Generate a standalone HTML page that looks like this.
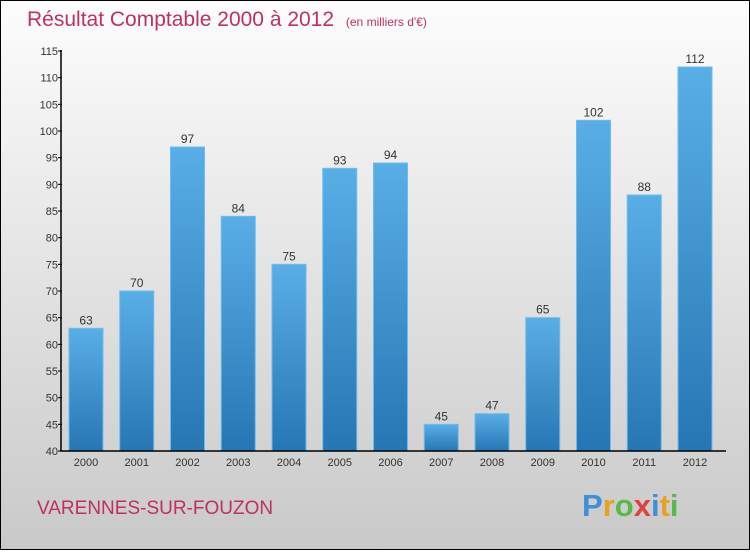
<!DOCTYPE html>
<html><head><meta charset="utf-8"><style>
html,body{margin:0;padding:0}
body{width:750px;height:550px;overflow:hidden;font-family:"Liberation Sans",sans-serif}
</style></head><body>
<svg id="c" width="750" height="550" xmlns="http://www.w3.org/2000/svg">
<defs>
<linearGradient id="bg" x1="0" y1="0" x2="0" y2="1"><stop offset="0" stop-color="#fdfdfd"/><stop offset="1" stop-color="#c9c9c9"/></linearGradient>
<linearGradient id="bar" x1="0" y1="0" x2="0" y2="1"><stop offset="0" stop-color="#5aaee6"/><stop offset="1" stop-color="#2676b3"/></linearGradient>
</defs>
<rect x="0.5" y="0.5" width="749" height="549" fill="url(#bg)" stroke="#000"/>
<text x="27" y="26" font-size="21" fill="#c0305e">Résultat Comptable 2000 à 2012 <tspan font-size="12" dx="6">(en milliers d'€)</tspan></text>
<text x="37" y="514" font-size="19" fill="#c0305e">VARENNES-SUR-FOUZON</text>
<text x="582" y="516" font-size="31" font-weight="bold"><tspan fill="#3c8fd8">P</tspan><tspan fill="#e8a020">r</tspan><tspan fill="#5bb84a">o</tspan><tspan fill="#e04040">x</tspan><tspan fill="#3c8fd8">i</tspan><tspan fill="#e8a020">t</tspan><tspan fill="#5bb84a">i</tspan></text>
<g id="plot"></g>
</svg>
<script>
const years=["2000","2001","2002","2003","2004","2005","2006","2007","2008","2009","2010","2011","2012"];
const values=[63,70,97,84,75,93,94,45,47,65,102,88,112];
const ticks=[40,45,50,55,60,65,70,75,80,85,90,95,100,105,110,115];
const NS="http://www.w3.org/2000/svg";
const g=document.getElementById('plot');
const y=v=>451-(v-40)*(400/75);
const x=i=>86+i*50.75;
function mk(t,a){const e=document.createElementNS(NS,t);for(const k in a)e.setAttribute(k,a[k]);g.appendChild(e);return e;}
values.forEach((v,i)=>{
 const r=mk('rect',{x:x(i)-17,y:y(v),width:34,height:451-y(v),fill:'url(#bar)',stroke:'#6bbcf0','stroke-width':1});
 
 
 const t=mk('text',{x:x(i),y:y(v)-4,'text-anchor':'middle','font-size':12,fill:'#333'});
 t.textContent=v;
 
 
 const xl=mk('text',{x:x(i),y:466,'text-anchor':'middle','font-size':11,fill:'#333'});
 xl.textContent=years[i];
 
 
});
ticks.forEach(v=>{
 const l=mk('line',{x1:58,x2:62,y1:y(v),y2:y(v),stroke:'#000'});
 
 
 const t=mk('text',{x:58,y:y(v)+4,'text-anchor':'end','font-size':11,fill:'#333'});
 t.textContent=v;
 
 
});
const ya=mk('line',{x1:61,x2:61,y1:50,y2:451,stroke:'#000','stroke-width':1.5});


const xa=mk('line',{x1:60,x2:726,y1:451,y2:451,stroke:'#000','stroke-width':1.5});


</script>
</body></html>
